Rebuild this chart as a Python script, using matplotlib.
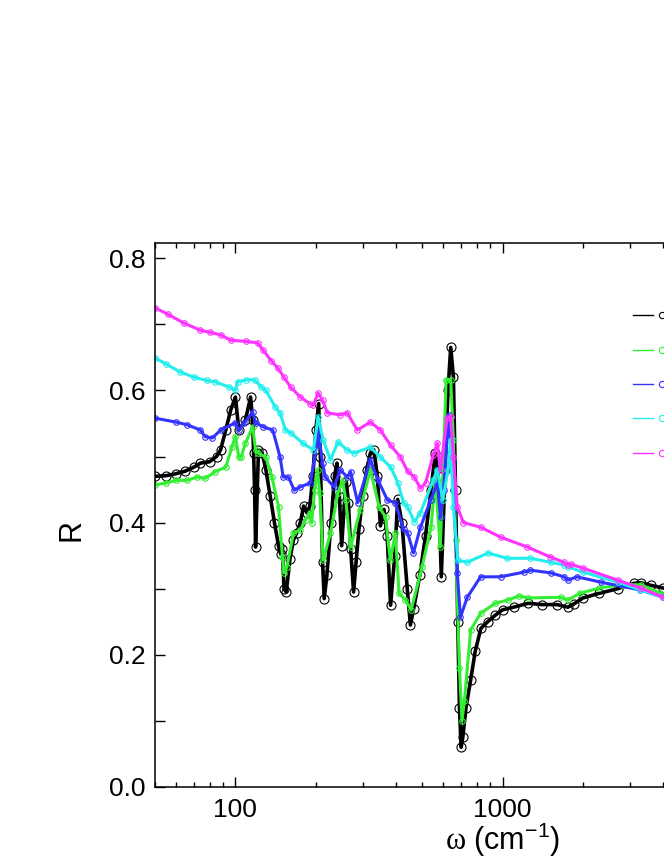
import numpy as np
import matplotlib.pyplot as plt
from matplotlib.lines import Line2D
from matplotlib.ticker import LogLocator, NullFormatter, MultipleLocator, FormatStrFormatter

plt.rcParams['font.family'] = ['Liberation Sans', 'DejaVu Sans']
plt.rcParams['mathtext.fontset'] = 'custom'
plt.rcParams['mathtext.rm'] = 'Liberation Serif'
plt.rcParams['mathtext.sf'] = 'Liberation Sans'

# --- data (wavenumber in cm^-1, reflectance R) ---
w_black = [50, 55, 60, 65, 70, 74, 80, 85, 88, 92, 96, 100, 103, 109, 114, 116, 117, 118, 119,
           122, 126, 130, 135, 140, 145, 148, 150, 152, 155, 160, 165, 170, 175, 180, 185, 190,
           195, 200, 205, 208, 212, 215, 220, 228, 235, 240, 245, 250, 255, 260, 265, 270, 277,
           283, 290, 300, 310, 320, 330, 340, 349, 360, 370, 381, 395, 405, 420, 440, 452, 465,
           490, 515, 540, 560, 575, 590, 610, 625, 640, 655, 667, 680, 690, 700, 710, 730, 760,
           790, 830, 880, 940, 1000, 1100, 1250, 1400, 1600, 1756, 1850, 2000, 2300, 2700, 3100,
           3300, 3600, 4000, 4500]
R_black = [0.470, 0.471, 0.474, 0.478, 0.484, 0.490, 0.492, 0.500, 0.510, 0.540, 0.570, 0.590,
           0.540, 0.555, 0.590, 0.555, 0.505, 0.449, 0.363, 0.510, 0.505, 0.480, 0.440, 0.400,
           0.365, 0.352, 0.360, 0.300, 0.295, 0.345, 0.374, 0.385, 0.400, 0.425, 0.415, 0.425,
           0.470, 0.540, 0.580, 0.500, 0.340, 0.285, 0.320, 0.400, 0.470, 0.490, 0.440, 0.365,
           0.420, 0.462, 0.430, 0.360, 0.295, 0.340, 0.390, 0.440, 0.480, 0.505, 0.510, 0.470,
           0.395, 0.420, 0.380, 0.275, 0.350, 0.435, 0.400, 0.300, 0.245, 0.270, 0.320, 0.380,
           0.450, 0.505, 0.470, 0.318, 0.480, 0.600, 0.665, 0.620, 0.450, 0.250, 0.120, 0.060,
           0.075, 0.120, 0.162, 0.205, 0.240, 0.250, 0.260, 0.268, 0.272, 0.278, 0.276, 0.276,
           0.272, 0.277, 0.286, 0.293, 0.300, 0.308, 0.309, 0.305, 0.301, 0.297]

w_green = [50, 55, 60, 66, 72, 77, 84, 92, 97, 100, 103, 105, 109, 116, 119, 122, 130, 137, 145,
           150, 152, 156, 165, 175, 183, 190, 193, 198, 203, 207, 213, 227, 242, 252, 259, 270,
           293, 320, 345, 365, 380, 397, 410, 433, 455, 500, 540, 560, 585, 615, 640, 655, 667,
           690, 705, 720, 760, 830, 940, 1050, 1150, 1250, 1650, 1756, 1950, 2300, 2800, 3300,
           3900, 4500]
R_green = [0.457, 0.460, 0.464, 0.464, 0.469, 0.467, 0.477, 0.484, 0.514, 0.530, 0.499, 0.499,
           0.520, 0.545, 0.510, 0.505, 0.499, 0.469, 0.424, 0.348, 0.324, 0.333, 0.384, 0.389,
           0.404, 0.415, 0.400, 0.449, 0.480, 0.445, 0.343, 0.384, 0.445, 0.464, 0.434, 0.363,
           0.419, 0.480, 0.424, 0.408, 0.343, 0.384, 0.293, 0.283, 0.268, 0.333, 0.393, 0.464,
           0.363, 0.616, 0.616, 0.525, 0.374, 0.180, 0.100, 0.130, 0.238, 0.263, 0.278, 0.283,
           0.289, 0.286, 0.287, 0.283, 0.293, 0.301, 0.306, 0.306, 0.293, 0.285]

w_blue = [50, 60, 66, 74, 77, 82, 88, 100, 103, 108, 116, 119, 127, 138, 147, 151, 158, 166, 175,
          191, 202, 204, 212, 217, 234, 247, 262, 270, 287, 320, 342, 371, 397, 426, 441, 464,
          493, 538, 570, 586, 602, 628, 655, 677, 696, 738, 828, 983, 1200, 1273, 1513, 1700,
          1756, 1900, 2328, 3285, 4000, 4500]
R_blue = [0.558, 0.552, 0.548, 0.540, 0.530, 0.528, 0.540, 0.551, 0.540, 0.551, 0.567, 0.551,
          0.545, 0.540, 0.499, 0.469, 0.469, 0.449, 0.454, 0.460, 0.520, 0.540, 0.490, 0.469,
          0.454, 0.480, 0.469, 0.477, 0.430, 0.495, 0.464, 0.434, 0.430, 0.390, 0.385, 0.354,
          0.393, 0.434, 0.460, 0.408, 0.449, 0.563, 0.449, 0.324, 0.257, 0.287, 0.318, 0.318,
          0.325, 0.328, 0.324, 0.318, 0.313, 0.318, 0.310, 0.298, 0.287, 0.281]

w_cyan = [50, 55, 62, 70, 78, 84, 95, 100, 102, 110, 118, 125, 130, 141, 147, 154, 161, 179, 196,
          204, 213, 227, 242, 262, 277, 320, 349, 381, 406, 426, 441, 468, 493, 550, 570, 598,
          625, 639, 655, 681, 738, 883, 1040, 1273, 1513, 1700, 1756, 2007, 2700, 3285, 4000,
          4500]
R_cyan = [0.649, 0.640, 0.628, 0.620, 0.615, 0.613, 0.605, 0.600, 0.613, 0.616, 0.616, 0.605,
          0.600, 0.575, 0.566, 0.540, 0.536, 0.520, 0.510, 0.560, 0.525, 0.495, 0.522, 0.510,
          0.505, 0.514, 0.499, 0.484, 0.460, 0.430, 0.424, 0.401, 0.415, 0.464, 0.480, 0.434,
          0.480, 0.525, 0.424, 0.343, 0.340, 0.354, 0.346, 0.346, 0.340, 0.336, 0.333, 0.325,
          0.310, 0.298, 0.287, 0.281]

w_mag = [50, 56, 64, 74, 80, 88, 96, 110, 121, 127, 136, 144, 152, 161, 175, 190, 196, 204, 212,
         221, 247, 262, 286, 320, 349, 381, 415, 441, 467, 493, 515, 550, 570, 586, 620, 639,
         655, 677, 714, 829, 983, 1240, 1510, 1700, 1756, 1800, 2007, 2700, 3290, 4000, 4500]
R_mag = [0.725, 0.715, 0.702, 0.691, 0.688, 0.684, 0.676, 0.674, 0.672, 0.661, 0.645, 0.634,
         0.620, 0.605, 0.590, 0.580, 0.578, 0.596, 0.585, 0.566, 0.563, 0.566, 0.540, 0.552,
         0.540, 0.517, 0.499, 0.478, 0.469, 0.452, 0.460, 0.502, 0.520, 0.480, 0.558, 0.560,
         0.500, 0.424, 0.400, 0.393, 0.378, 0.363, 0.348, 0.340, 0.336, 0.337, 0.331, 0.313,
         0.301, 0.287, 0.280]

series = [
    (w_black, R_black, '#000000', 6.5, 2.6),
    (w_green, R_green, '#33ee33', 4.0, 2.2),
    (w_blue, R_blue, '#3333ff', 4.0, 2.2),
    (w_cyan, R_cyan, '#22eeee', 4.0, 2.2),
    (w_mag, R_mag, '#ff33ff', 4.0, 2.2),
]

fig = plt.figure(figsize=(6.64, 8.6), dpi=100)
# axes run past the right edge of the picture, as in the cropped reference
ax = fig.add_axes([155 / 664, 73 / 860, 695 / 664, 544 / 860])

for w, R, col, ms, lw in series:
    ax.plot(w, R, '-', color=col, lw=lw, marker='o', ms=ms, mfc='none',
            mec=col, mew=0.8)

ax.set_xscale('log')
ax.set_xlim(50, 20000)
ax.set_ylim(0, 0.823)

ax.xaxis.set_minor_locator(LogLocator(base=10, subs=np.arange(2, 10)))
ax.xaxis.set_minor_formatter(NullFormatter())
ax.set_xticks([100, 1000, 10000])
ax.set_xticklabels(['100', '1000', ''])
ax.yaxis.set_major_locator(MultipleLocator(0.2))
ax.yaxis.set_minor_locator(MultipleLocator(0.1))
ax.yaxis.set_major_formatter(FormatStrFormatter('%.1f'))

ax.tick_params(which='both', direction='in', top=True, right=True, width=1.0,
               labelsize=19)
ax.tick_params(axis='x', which='major', length=7, pad=8)
ax.tick_params(axis='x', which='minor', length=3.6)
ax.tick_params(axis='y', which='both', length=7, pad=7)
for sp in ax.spines.values():
    sp.set_linewidth(1.1)

ax.set_xlabel(r'$\mathrm{\omega}$ (cm$^{\mathsf{-1}}$)', fontsize=22)
ax.xaxis.set_label_coords(0.5, -0.062)
ax.set_ylabel('R', fontsize=22)
ax.yaxis.set_label_coords(-0.098, 0.472)

# legend samples (labels fall outside the cropped picture)
leg_y = [315, 350, 384, 418, 453]
for (w, R, col, ms, lw), y in zip(series, leg_y):
    yf = 1 - y / 860
    fig.add_artist(Line2D([633 / 664, 653 / 664], [yf, yf], color=col, lw=1.0,
                          transform=fig.transFigure))
    fig.add_artist(Line2D([662 / 664], [yf], marker='o', ms=4.5, mfc='none', mec=col,
                          mew=0.8, transform=fig.transFigure))

fig.savefig('out.png', dpi=100)
